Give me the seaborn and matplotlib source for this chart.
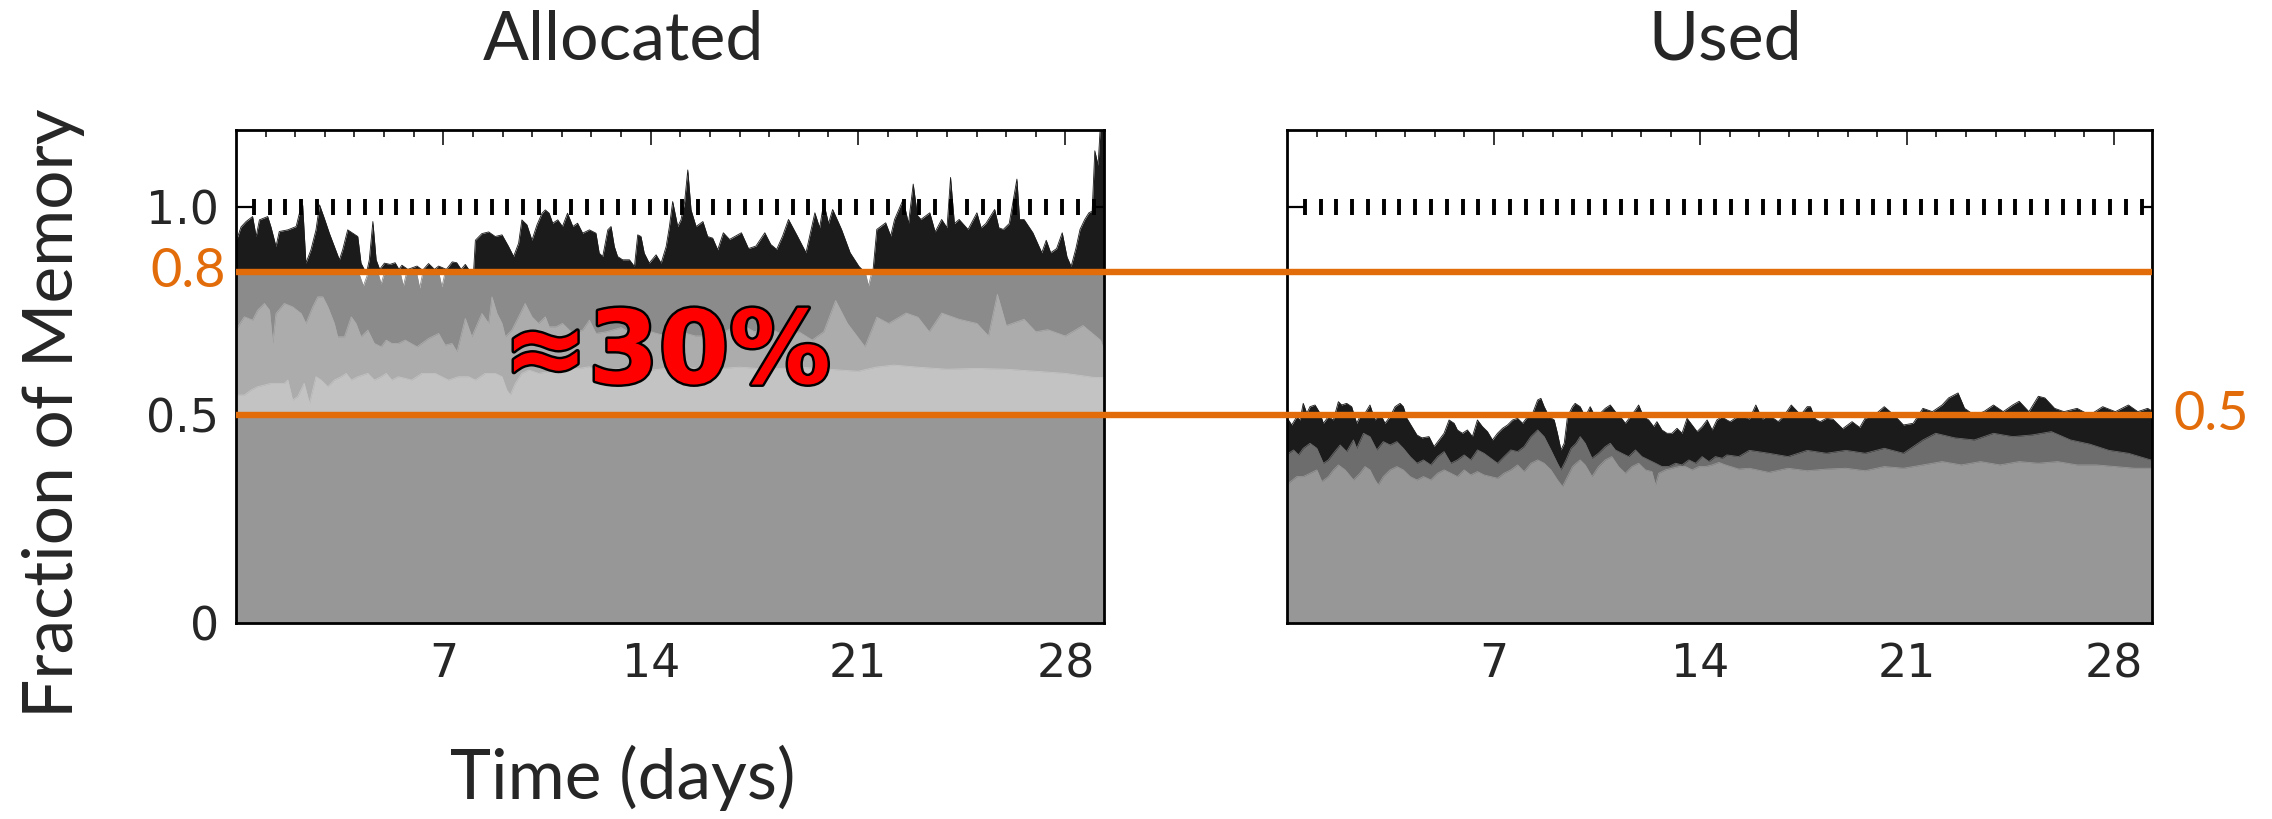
import numpy as np
import matplotlib
matplotlib.use("Agg")
import matplotlib.pyplot as plt
import matplotlib.transforms as mtransforms
import matplotlib.patheffects as pe
from matplotlib.lines import Line2D
import seaborn as sns

# ---------------- data ----------------
XMAX = 29.3
CAPACITY = 1.0
THRESH_HIGH = 0.844   # orange line labelled 0.8
THRESH_LOW = 0.5
XTICKS = [7, 14, 21, 28]
YTICKS = [0, 0.5, 1.0]
YTICK_LABELS = ["0", "0.5", "1.0"]
TITLES = ["Allocated", "Used"]

# Allocated panel: black (top) layer
alloc_black_x = [0.0, 0.06, 0.17, 0.34, 0.56, 0.68, 0.79, 1.07, 1.18, 1.35, 1.46, 1.75, 2.03, 2.14, 2.25, 2.36,
                 2.53, 2.70, 2.82, 2.98, 3.15, 3.32, 3.49, 3.60, 3.77, 4.11, 4.22, 4.40, 4.50, 4.62, 4.73, 4.85,
                 5.01, 5.2, 5.37, 5.5, 5.6, 5.8, 6.11, 6.3, 6.5, 6.7, 6.84, 7.1, 7.30, 7.45, 7.6, 7.74, 7.9,
                 8.02, 8.08, 8.30, 8.53, 8.75, 8.98, 9.20, 9.37, 9.54, 9.65, 9.82, 9.99, 10.16, 10.33, 10.44,
                 10.57, 10.69, 10.86, 11.02, 11.19, 11.37, 11.53, 11.70, 11.93, 12.15, 12.26, 12.38, 12.55,
                 12.66, 12.77, 12.88, 13.05, 13.28, 13.45, 13.56, 13.67, 13.78, 13.95, 14.18, 14.35, 14.52,
                 14.63, 14.74, 14.91, 15.02, 15.14, 15.25, 15.36, 15.53, 15.76, 15.92, 16.09, 16.26, 16.45,
                 16.66, 17.06, 17.3, 17.55, 17.85, 18.05, 18.25, 18.45, 18.65, 18.95, 19.24, 19.54, 19.7,
                 19.84, 20.0, 20.14, 20.44, 20.73, 21.03, 21.2, 21.33, 21.5, 21.63, 21.93, 22.1, 22.23, 22.52,
                 22.7, 22.86, 23.0, 23.12, 23.42, 23.6, 23.82, 24.0, 24.12, 24.25, 24.41, 24.71, 25.01, 25.15,
                 25.31, 25.61, 25.75, 25.9, 26.1, 26.36, 26.45, 26.6, 26.9, 27.2, 27.35, 27.5, 27.7, 27.89,
                 28.05, 28.19, 28.35, 28.49, 28.65, 28.79, 28.9, 28.99, 29.1, 29.18, 29.3]
alloc_black_y = [0.92, 0.929, 0.952, 0.965, 0.977, 0.929, 0.969, 0.977, 0.952, 0.905, 0.941, 0.945, 0.953, 0.985,
                 1.005, 0.865, 0.897, 0.945, 1.005, 0.973, 0.937, 0.905, 0.873, 0.897, 0.945, 0.929, 0.865, 0.84,
                 0.873, 0.965, 0.873, 0.85, 0.865, 0.862, 0.866, 0.85, 0.86, 0.85, 0.858, 0.848, 0.864, 0.85,
                 0.858, 0.85, 0.868, 0.866, 0.85, 0.862, 0.845, 0.845, 0.92, 0.936, 0.94, 0.929, 0.933, 0.905,
                 0.881, 0.913, 0.969, 0.957, 0.92, 0.957, 0.985, 0.993, 0.985, 0.961, 0.969, 0.953, 0.985, 0.953,
                 0.961, 0.937, 0.945, 0.937, 0.889, 0.881, 0.945, 0.953, 0.905, 0.881, 0.873, 0.873, 0.857, 0.933,
                 0.929, 0.889, 0.865, 0.885, 0.865, 0.905, 0.953, 1.013, 0.953, 0.969, 1.01, 1.089, 0.993, 0.953,
                 0.965, 0.929, 0.925, 0.897, 0.938, 0.922, 0.938, 0.9, 0.906, 0.938, 0.91, 0.898, 0.93, 0.97,
                 0.93, 0.89, 0.986, 0.95, 1.01, 0.96, 0.994, 0.946, 0.89, 0.857, 0.845, 0.84, 0.845, 0.946, 0.962,
                 0.93, 0.97, 1.018, 0.96, 1.055, 0.98, 0.97, 0.986, 0.94, 0.97, 0.95, 1.071, 0.96, 0.97, 0.946,
                 0.986, 0.95, 0.96, 0.994, 0.95, 0.946, 0.96, 1.067, 0.97, 0.97, 0.938, 0.89, 0.92, 0.89, 0.9,
                 0.938, 0.88, 0.857, 0.9, 0.946, 0.97, 0.986, 0.99, 1.135, 1.1, 1.2, 1.2]

# Allocated panel: dark gray layer (just under the black one)
alloc_dark_x = [0.0, 4.15, 4.3, 4.45, 4.8, 4.9, 5.0, 5.55, 5.65, 5.75, 6.1, 6.2, 6.3, 6.85, 6.95, 7.05,
                21.25, 21.35, 21.45, 29.3]
alloc_dark_y = [0.84, 0.84, 0.81, 0.84, 0.84, 0.815, 0.84, 0.84, 0.81, 0.84, 0.84, 0.805, 0.84, 0.84, 0.808,
                0.84, 0.84, 0.81, 0.84, 0.84]

# Allocated panel: medium gray layer
alloc_mid_x = [0.0, 0.06, 0.28, 0.56, 0.73, 0.96, 1.13, 1.24, 1.35, 1.63, 1.91, 2.20, 2.36, 2.59, 2.76, 2.93,
               3.10, 3.32, 3.43, 3.66, 3.89, 4.05, 4.22, 4.45, 4.67, 4.90, 5.07, 5.26, 5.48, 5.71, 6.11, 6.50,
               6.84, 7.06, 7.29, 7.46, 7.74, 7.96, 8.30, 8.53, 8.64, 8.81, 8.98, 9.09, 9.31, 9.54, 9.76, 9.99,
               10.21, 10.44, 10.57, 10.80, 11.02, 11.37, 11.70, 11.93, 12.15, 12.5, 13.0, 13.5, 14.0, 14.5,
               15.0, 15.5, 16.0, 16.5, 17.0, 17.5, 18.0, 18.5, 19.0, 19.45, 19.84, 20.24, 20.64, 21.23, 21.63,
               22.03, 22.62, 23.02, 23.4, 23.82, 24.41, 25.01, 25.4, 25.7, 26.0, 26.6, 27.0, 27.4, 27.99,
               28.59, 29.18, 29.3]
alloc_mid_y = [0.70, 0.712, 0.736, 0.728, 0.752, 0.768, 0.752, 0.672, 0.744, 0.768, 0.76, 0.744, 0.72, 0.76,
               0.784, 0.784, 0.76, 0.72, 0.688, 0.688, 0.736, 0.72, 0.688, 0.704, 0.672, 0.664, 0.68, 0.672,
               0.672, 0.68, 0.664, 0.684, 0.696, 0.668, 0.672, 0.652, 0.732, 0.688, 0.744, 0.72, 0.784, 0.744,
               0.72, 0.688, 0.704, 0.736, 0.768, 0.736, 0.72, 0.736, 0.712, 0.712, 0.72, 0.696, 0.704, 0.728,
               0.696, 0.70, 0.71, 0.69, 0.70, 0.69, 0.70, 0.69, 0.69, 0.70, 0.72, 0.70, 0.71, 0.69, 0.70, 0.68,
               0.70, 0.775, 0.72, 0.664, 0.735, 0.72, 0.745, 0.735, 0.70, 0.745, 0.73, 0.72, 0.69, 0.79, 0.715,
               0.73, 0.70, 0.705, 0.69, 0.715, 0.68, 0.655]

# Allocated panel: light gray layer
alloc_light_x = [0.0, 0.06, 0.28, 0.51, 0.73, 0.96, 1.18, 1.46, 1.63, 1.75, 1.91, 2.08, 2.30, 2.48, 2.70, 2.87,
                 3.10, 3.32, 3.55, 3.72, 3.89, 4.11, 4.45, 4.67, 4.90, 5.07, 5.26, 5.48, 5.93, 6.27, 6.72, 7.17,
                 7.51, 7.85, 8.08, 8.41, 8.75, 8.98, 9.14, 9.26, 9.43, 9.65, 9.88, 10.21, 10.55, 10.91, 11.25,
                 11.59, 11.93, 12.26, 12.6, 13.0, 14.0, 15.0, 16.0, 17.0, 18.0, 19.0, 20.0, 21.0, 21.6, 22.2,
                 23.0, 24.0, 25.0, 26.0, 27.0, 28.0, 29.0, 29.3]
alloc_light_y = [0.545, 0.548, 0.548, 0.56, 0.568, 0.572, 0.576, 0.576, 0.576, 0.584, 0.536, 0.544, 0.576, 0.528,
                 0.592, 0.584, 0.568, 0.584, 0.592, 0.60, 0.584, 0.592, 0.60, 0.584, 0.592, 0.60, 0.584, 0.592,
                 0.584, 0.60, 0.60, 0.584, 0.592, 0.592, 0.584, 0.60, 0.60, 0.592, 0.56, 0.548, 0.576, 0.60,
                 0.608, 0.60, 0.604, 0.608, 0.612, 0.612, 0.616, 0.60, 0.608, 0.612, 0.608, 0.615, 0.61, 0.615,
                 0.61, 0.615, 0.61, 0.605, 0.615, 0.62, 0.615, 0.61, 0.612, 0.61, 0.605, 0.60, 0.59, 0.59]

# Used panel: black (top) layer
used_black_x = [0.0, 0.05, 0.16, 0.33, 0.44, 0.55, 0.67, 0.78, 0.95, 1.12, 1.23, 1.40, 1.57, 1.74, 1.85, 2.02,
                2.19, 2.36, 2.47, 2.64, 2.81, 2.98, 3.15, 3.32, 3.49, 3.66, 3.83, 3.94, 4.06, 4.23, 4.40, 4.57,
                4.81, 4.98, 5.15, 5.32, 5.49, 5.66, 5.77, 5.94, 6.11, 6.28, 6.45, 6.62, 6.79, 6.96, 7.13, 7.30,
                7.47, 7.64, 7.81, 7.98, 8.15, 8.32, 8.49, 8.60, 8.71, 8.88, 9.05, 9.16, 9.28, 9.39, 9.50, 9.67,
                9.76, 9.93, 10.10, 10.27, 10.44, 10.61, 10.78, 10.95, 11.12, 11.29, 11.46, 11.63, 11.80, 11.91,
                12.08, 12.25, 12.42, 12.53, 12.70, 12.87, 13.04, 13.21, 13.38, 13.55, 13.72, 13.89, 14.06, 14.23,
                14.40, 14.56, 14.73, 14.90, 15.01, 15.34, 15.66, 15.88, 16.1, 16.32, 16.64, 16.85, 17.08, 17.40,
                17.62, 17.73, 17.9, 18.06, 18.27, 18.49, 18.82, 19.14, 19.4, 19.58, 19.90, 20.23, 20.56, 20.88,
                21.21, 21.54, 21.86, 22.19, 22.41, 22.73, 22.95, 23.28, 23.60, 23.93, 24.26, 24.58, 24.80, 25.13,
                25.45, 25.67, 26.00, 26.32, 26.76, 27.19, 27.63, 28.06, 28.50, 28.82, 29.15, 29.3]
used_black_y = [0.48, 0.488, 0.476, 0.496, 0.488, 0.528, 0.504, 0.52, 0.524, 0.504, 0.48, 0.496, 0.488, 0.532,
                0.524, 0.528, 0.52, 0.48, 0.496, 0.504, 0.524, 0.488, 0.504, 0.48, 0.496, 0.52, 0.528, 0.52,
                0.492, 0.472, 0.452, 0.445, 0.448, 0.424, 0.44, 0.456, 0.488, 0.48, 0.464, 0.456, 0.464, 0.448,
                0.488, 0.472, 0.46, 0.44, 0.456, 0.468, 0.476, 0.488, 0.492, 0.48, 0.496, 0.504, 0.536, 0.54,
                0.52, 0.496, 0.488, 0.456, 0.416, 0.432, 0.496, 0.52, 0.528, 0.52, 0.496, 0.52, 0.496, 0.504,
                0.516, 0.524, 0.508, 0.496, 0.48, 0.496, 0.512, 0.524, 0.496, 0.488, 0.472, 0.484, 0.464, 0.456,
                0.456, 0.468, 0.456, 0.492, 0.476, 0.46, 0.472, 0.488, 0.464, 0.488, 0.496, 0.488, 0.484, 0.5,
                0.49, 0.524, 0.49, 0.5, 0.484, 0.5, 0.524, 0.5, 0.52, 0.52, 0.49, 0.484, 0.492, 0.49, 0.467,
                0.484, 0.47, 0.492, 0.5, 0.52, 0.5, 0.476, 0.48, 0.516, 0.508, 0.524, 0.541, 0.553, 0.516, 0.5,
                0.508, 0.524, 0.508, 0.524, 0.533, 0.508, 0.545, 0.541, 0.516, 0.508, 0.516, 0.5, 0.52, 0.508,
                0.524, 0.508, 0.516, 0.51]

# Used panel: dark gray layer
used_dark_x = [0.0, 0.05, 0.22, 0.39, 0.55, 0.78, 1.01, 1.23, 1.40, 1.57, 1.80, 2.02, 2.25, 2.36, 2.59, 2.81,
               3.04, 3.26, 3.49, 3.72, 3.94, 4.17, 4.40, 4.62, 4.87, 5.10, 5.32, 5.55, 5.77, 6.00, 6.22, 6.45,
               6.67, 6.90, 7.13, 7.35, 7.58, 7.81, 8.03, 8.26, 8.49, 8.71, 8.94, 9.16, 9.28, 9.45, 9.62, 9.79,
               9.93, 10.10, 10.33, 10.55, 10.78, 10.95, 11.12, 11.34, 11.57, 11.80, 12.02, 12.25, 12.48, 12.70,
               12.93, 13.16, 13.38, 13.61, 13.84, 14.06, 14.29, 14.51, 14.74, 14.90, 15.3, 15.66, 16.32, 16.97,
               17.62, 18.27, 18.93, 19.58, 20.23, 20.88, 21.54, 21.97, 22.62, 23.28, 23.93, 24.58, 25.23, 25.89,
               26.54, 27.19, 27.84, 28.50, 29.26, 29.3]
used_dark_y = [0.40, 0.408, 0.416, 0.404, 0.42, 0.432, 0.42, 0.384, 0.392, 0.408, 0.428, 0.412, 0.44, 0.42,
               0.456, 0.448, 0.416, 0.436, 0.428, 0.436, 0.42, 0.40, 0.384, 0.392, 0.38, 0.40, 0.412, 0.384,
               0.392, 0.404, 0.392, 0.416, 0.408, 0.396, 0.384, 0.40, 0.416, 0.412, 0.424, 0.448, 0.464, 0.448,
               0.416, 0.384, 0.368, 0.392, 0.42, 0.432, 0.448, 0.432, 0.396, 0.408, 0.424, 0.432, 0.416, 0.408,
               0.40, 0.416, 0.40, 0.392, 0.384, 0.376, 0.376, 0.384, 0.38, 0.392, 0.384, 0.40, 0.388, 0.40,
               0.396, 0.404, 0.40, 0.415, 0.408, 0.40, 0.415, 0.408, 0.415, 0.408, 0.42, 0.408, 0.44, 0.456,
               0.445, 0.44, 0.456, 0.448, 0.452, 0.46, 0.44, 0.43, 0.415, 0.408, 0.392, 0.392]

# Used panel: bottom gray layer
used_light_x = [0.0, 0.05, 0.33, 0.55, 0.78, 1.01, 1.18, 1.40, 1.57, 1.74, 1.97, 2.25, 2.47, 2.64, 2.81, 2.98,
                3.09, 3.26, 3.49, 3.72, 3.94, 4.17, 4.40, 4.62, 4.87, 5.10, 5.32, 5.55, 5.77, 6.00, 6.22, 6.45,
                6.67, 6.90, 7.13, 7.35, 7.58, 7.81, 8.03, 8.26, 8.49, 8.71, 8.94, 9.16, 9.33, 9.50, 9.67, 9.79,
                9.93, 10.10, 10.33, 10.55, 10.78, 11.0, 11.23, 11.46, 11.68, 11.91, 12.14, 12.36, 12.48, 12.59,
                12.82, 13.04, 13.27, 13.50, 13.72, 13.95, 14.17, 14.40, 14.63, 14.85, 15.3, 15.66, 16.32, 16.97,
                17.62, 18.27, 18.93, 19.58, 20.23, 20.88, 21.54, 22.19, 22.84, 23.49, 24.15, 24.80, 25.45, 26.10,
                26.76, 27.41, 28.06, 28.71, 29.26, 29.3]
used_light_y = [0.33, 0.336, 0.352, 0.352, 0.36, 0.368, 0.34, 0.352, 0.368, 0.38, 0.368, 0.344, 0.36, 0.376,
                0.368, 0.344, 0.332, 0.352, 0.368, 0.376, 0.368, 0.352, 0.344, 0.352, 0.344, 0.36, 0.368, 0.36,
                0.352, 0.368, 0.356, 0.364, 0.356, 0.352, 0.348, 0.36, 0.368, 0.38, 0.364, 0.384, 0.392, 0.384,
                0.368, 0.344, 0.328, 0.352, 0.376, 0.384, 0.392, 0.38, 0.352, 0.376, 0.392, 0.40, 0.376, 0.36,
                0.376, 0.384, 0.368, 0.364, 0.332, 0.36, 0.368, 0.372, 0.376, 0.376, 0.368, 0.376, 0.376, 0.38,
                0.386, 0.38, 0.37, 0.372, 0.362, 0.372, 0.366, 0.37, 0.372, 0.366, 0.376, 0.372, 0.38, 0.388,
                0.38, 0.388, 0.38, 0.388, 0.384, 0.388, 0.38, 0.38, 0.376, 0.372, 0.372, 0.372]

# ---------------- styling ----------------
sns.set_theme(style="white")
plt.rcParams['font.family'] = ['DejaVu Sans']
LABEL_FONT = ['Lato', 'DejaVu Sans']
ORANGE = '#e36c0a'
C_BLACK = '#1b1b1b'
C_DARK = '#8b8b8b'
C_MID = '#acacac'
C_LIGHT = '#c3c3c3'
C_BASE = '#979797'
C_UDARK = '#6d6d6d'

W, H = 2272, 819
fig = plt.figure(figsize=(W / 100, H / 100), dpi=100)
ax1 = fig.add_axes([236 / W, 196 / H, 868 / W, 493 / H])
ax2 = fig.add_axes([1287 / W, 196 / H, 865 / W, 493 / H])


def layer(ax, x, y, color, base=0.0):
    x = np.asarray(x, float)
    y = np.asarray(y, float)
    ax.fill_between(x, base, np.maximum(y, base), color=color, lw=0, zorder=2)
    sns.lineplot(x=x, y=np.maximum(y, base), ax=ax, color=color, lw=0.6,
                 estimator=None, sort=False, legend=False, zorder=2)


# Allocated
layer(ax1, alloc_black_x, alloc_black_y, C_BLACK, base=0.84)
layer(ax1, alloc_dark_x, alloc_dark_y, C_DARK)
layer(ax1, alloc_mid_x, alloc_mid_y, C_MID)
layer(ax1, alloc_light_x, alloc_light_y, C_LIGHT)
ax1.axhspan(0, THRESH_LOW, color=C_BASE, lw=0, zorder=2)

# Used
layer(ax2, used_black_x, used_black_y, C_BLACK)
layer(ax2, used_dark_x, used_dark_y, C_UDARK)
layer(ax2, used_light_x, used_light_y, C_BASE)

cap_x = np.arange(0.6, XMAX - 0.25, 0.535)
for ax in [ax1, ax2]:
    ax.set_xlim(0, XMAX)
    ax.set_ylim(0, 1.185)
    ax.set_xlabel("")
    ax.set_ylabel("")
    ax.plot(cap_x, np.full_like(cap_x, CAPACITY), ls='none', marker='|', ms=11, mew=2.8,
            color='black', zorder=4)
    ax.plot([0, cap_x[0]], [CAPACITY, CAPACITY], color='black', lw=1.6, zorder=4)
    ax.plot([cap_x[-1], XMAX], [CAPACITY, CAPACITY], color='black', lw=1.6, zorder=4)
    ax.set_xticks(XTICKS)
    ax.set_xticks(np.arange(1, 29), minor=True)
    ax.tick_params(axis='x', which='major', direction='in', length=11, width=1.1, top=True, bottom=True,
                   labelsize=33, pad=14, color='black')
    ax.tick_params(axis='x', which='minor', direction='in', length=5, width=1.1, top=True, bottom=True,
                   color='black')
    for s in ax.spines.values():
        s.set_color('black')
        s.set_linewidth(2.0)
        s.set_zorder(6)
    ax.set_facecolor('white')

ax1.set_yticks(YTICKS)
ax1.set_yticklabels(YTICK_LABELS)
ax1.tick_params(axis='y', length=0, labelsize=33, pad=12)
ax2.set_yticks([])

# orange threshold lines spanning both panels (figure-level, drawn above both axes)
trans = mtransforms.blended_transform_factory(fig.transFigure, ax1.transData)
for yv in [THRESH_HIGH, THRESH_LOW]:
    fig.add_artist(Line2D([236 / W, 2152 / W], [yv, yv], color=ORANGE, lw=4.6, transform=trans,
                          zorder=5, solid_capstyle='butt'))

fig.text(226 / W, THRESH_HIGH, "0.8", transform=trans, ha='right', va='center', color=ORANGE,
         fontsize=39, family=LABEL_FONT, zorder=6)
fig.text(2173 / W, THRESH_LOW, "0.5", transform=trans, ha='left', va='center', color=ORANGE,
         fontsize=39, family=LABEL_FONT, zorder=6)

fig.text(667 / W, 0.644, "\u224830%", ha='center', va='center', fontsize=73, fontweight='bold',
         color='#ff0000', family=['DejaVu Sans'], zorder=8, transform=trans,
         path_effects=[pe.withStroke(linewidth=3.5, foreground='black')])

fig.text(623 / W, 1 - 41 / H, TITLES[0], ha='center', va='center', fontsize=49, family=LABEL_FONT)
fig.text(1725 / W, 1 - 41 / H, TITLES[1], ha='center', va='center', fontsize=49, family=LABEL_FONT)
fig.text(623 / W, 1 - 778 / H, "Time (days)", ha='center', va='center', fontsize=50, family=LABEL_FONT)
fig.text(54 / W, 1 - 413 / H, "Fraction of Memory", ha='center', va='center', rotation=90,
         fontsize=50, family=LABEL_FONT)

fig.savefig("out.png", dpi=100, facecolor='white')
